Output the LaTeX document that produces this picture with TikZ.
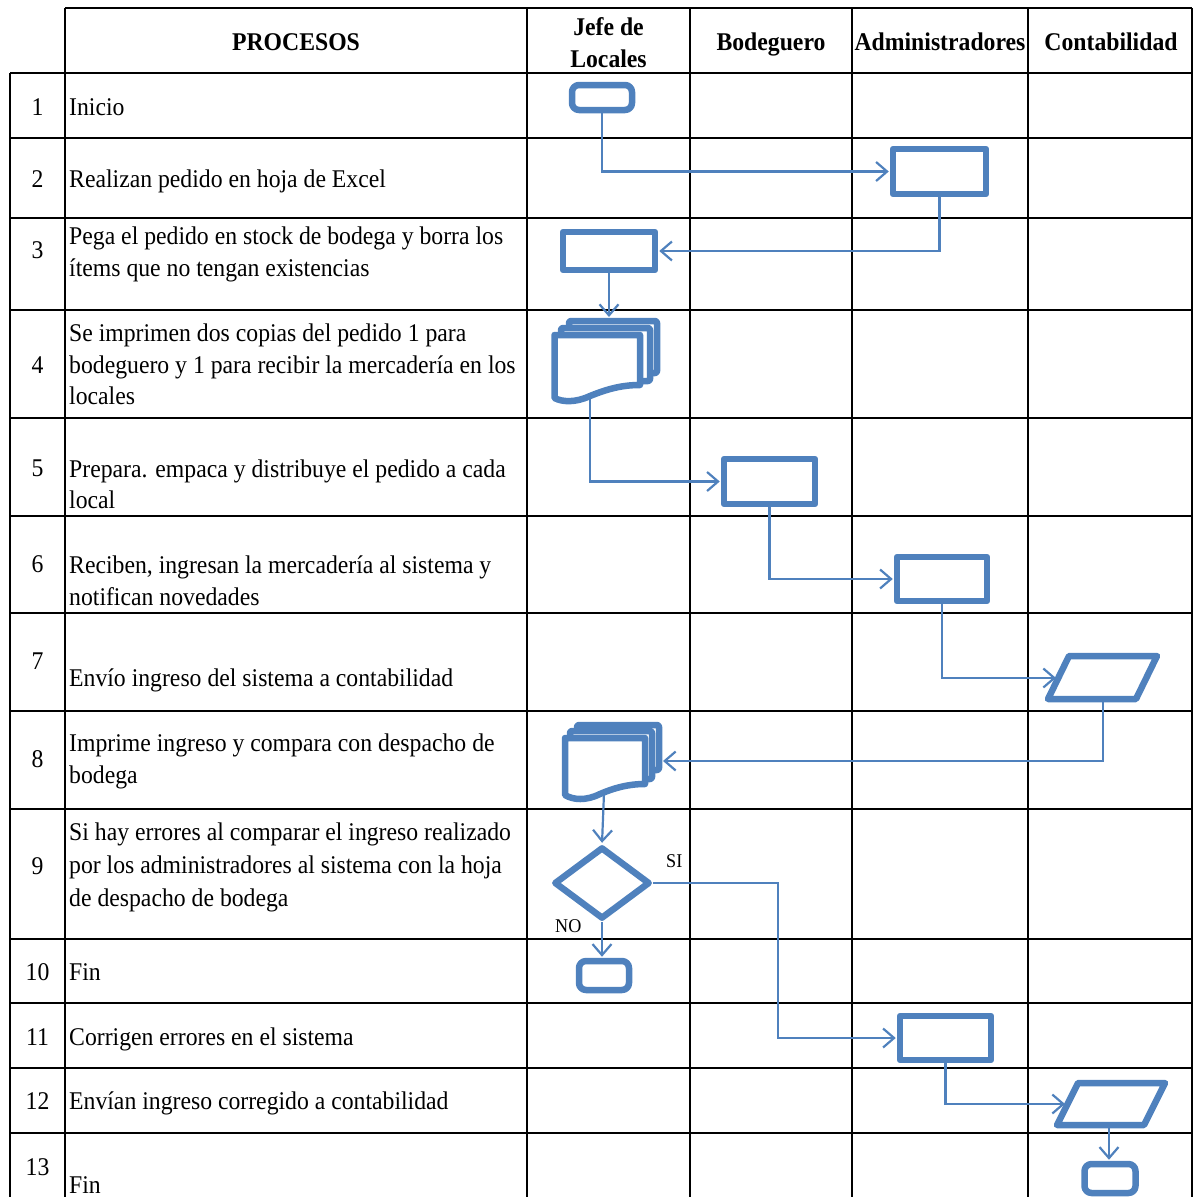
\documentclass[tikz,border=0pt]{standalone}
\usepackage{fontspec}
\setmainfont{Liberation Serif}[FakeStretch=0.93]
\usetikzlibrary{arrows.meta,shapes.geometric}
\definecolor{flowblue}{HTML}{4F81BD}

\begin{document}
\begin{tikzpicture}[x=1pt,y=-1pt,
  grid/.style={line width=2.5pt, black},
  cell/.style={font=\fontsize{25.5}{32.5}\selectfont, inner sep=0pt, anchor=base west},
  num/.style={font=\fontsize{25.5}{32.5}\selectfont, inner sep=0pt, anchor=base},
  head/.style={font=\fontsize{25.5}{32.5}\selectfont\bfseries, inner sep=0pt, anchor=base},
  branch/.style={font=\fontsize{19.5}{22}\selectfont, inner sep=0pt, anchor=base west},
  shapeline/.style={draw=flowblue, line width=6.5pt, fill=white, line join=round},
  procbox/.style={shapeline, rectangle, inner sep=0pt},
  termbox/.style={shapeline, rectangle, rounded corners=7pt, inner sep=0pt},
  decision/.style={shapeline, diamond, inner sep=0pt},
  link/.style={draw=flowblue, line width=2.2pt, shorten >=1pt,
    -{Straight Barb[length=11pt,width=19pt]}}
]
\useasboundingbox (0,0) rectangle (1194,1197);

% ---- table grid ----
\draw[grid] (65,8) -- (1192,8);
\foreach \y in {73,138,218,310,418,516,613,711,809,939,1003,1068,1133}
  \draw[grid] (10,\y) -- (1192,\y);
\draw[grid] (10,73) -- (10,1197);
\foreach \x in {65,527,690,852,1028,1192}
  \draw[grid] (\x,8) -- (\x,1197);

% ---- header ----
\node[head] (hproc) at (296,50) {PROCESOS};
\node[head] (hjefeA) at (608.5,35) {Jefe de};
\node[head] (hjefeB) at (608.5,67) {Locales};
\node[head] (hbod) at (771,50) {Bodeguero};
\node[head] (hadm) at (940,50) {Administradores};
\node[head] (hcont) at (1111,50) {Contabilidad};

% ---- step numbers ----
\node[num] (n1) at (37.5,115) {1};
\node[num] (n2) at (37.5,187) {2};
\node[num] (n3) at (37.5,258) {3};
\node[num] (n4) at (37.5,373) {4};
\node[num] (n5) at (37.5,476) {5};
\node[num] (n6) at (37.5,572) {6};
\node[num] (n7) at (37.5,669) {7};
\node[num] (n8) at (37.5,767) {8};
\node[num] (n9) at (37.5,874) {9};
\node[num] (n10) at (37.5,980) {10};
\node[num] (n11) at (37.5,1045) {11};
\node[num] (n12) at (37.5,1109) {12};
\node[num] (n13) at (37.5,1175) {13};

% ---- process descriptions ----
\node[cell] (s1) at (69,115) {Inicio};
\node[cell] (s2) at (69,187) {Realizan pedido en hoja de Excel};
\node[cell] (s3a) at (69,244) {Pega el pedido en stock de bodega y borra los};
\node[cell] (s3b) at (69,276) {ítems que no tengan existencias};
\node[cell] (s4a) at (69,341) {Se imprimen dos copias del pedido 1 para};
\node[cell] (s4b) at (69,373) {bodeguero y 1 para recibir la mercadería en los};
\node[cell] (s4c) at (69,404) {locales};
\node[cell] (s5a) at (69,477) {Prepara. empaca y distribuye el pedido a cada};
\node[cell] (s5b) at (69,508) {local};
\node[cell] (s6a) at (69,573) {Reciben, ingresan la mercadería al sistema y};
\node[cell] (s6b) at (69,605) {notifican novedades};
\node[cell] (s7) at (69,686) {Envío ingreso del sistema a contabilidad};
\node[cell] (s8a) at (69,751) {Imprime ingreso y compara con despacho de};
\node[cell] (s8b) at (69,783) {bodega};
\node[cell] (s9a) at (69,840) {Si hay errores al comparar el ingreso realizado};
\node[cell] (s9b) at (69,873) {por los administradores al sistema con la hoja};
\node[cell] (s9c) at (69,906) {de despacho de bodega};
\node[cell] (s10) at (69,980) {Fin};
\node[cell] (s11) at (69,1045) {Corrigen errores en el sistema};
\node[cell] (s12) at (69,1109) {Envían ingreso corregido a contabilidad};
\node[cell] (s13) at (69,1193) {Fin};

% ---- flowchart symbols ----
\node[termbox, minimum width=60pt, minimum height=25pt] (t1) at (602,97.5) {};
\node[procbox, minimum width=93pt, minimum height=45pt] (r2) at (939.5,171.5) {};
\node[procbox, minimum width=92pt, minimum height=38pt] (r3) at (609,251) {};

% printed copies (stacked documents), step 4
\draw[shapeline, rounded corners=2pt] (569,321) rectangle (657,373);
\draw[shapeline, rounded corners=2pt] (561,328) rectangle (650,381);
\draw[shapeline] (554.5,335) -- (640,335) -- (640,385)
  .. controls (620,385) and (605,390) .. (590,396)
  .. controls (575,403) and (562,402) .. (554.5,398) -- cycle;
\coordinate (d4top) at (609,318);
\coordinate (d4bot) at (590,397);

\node[procbox, minimum width=91pt, minimum height=45pt] (r5) at (769.5,481.5) {};
\node[procbox, minimum width=90pt, minimum height=44pt] (r6) at (942,579) {};

% data symbol, step 7
\draw[shapeline] (1048,699) -- (1069,656) -- (1157,656) -- (1136,699) -- cycle;
\coordinate (p7w) at (1057,678);
\coordinate (p7s) at (1103,699);

% printed copies, step 8
\draw[shapeline, rounded corners=2pt] (577,725) rectangle (659,770);
\draw[shapeline, rounded corners=2pt] (570,731) rectangle (652,779);
\draw[shapeline] (565,738) -- (645,738) -- (645,784)
  .. controls (628,784) and (614,788) .. (600,794)
  .. controls (586,801) and (573,800) .. (565,795) -- cycle;
\coordinate (d8e) at (662,761);
\coordinate (d8bot) at (604,793);

\node[decision, minimum width=96pt, minimum height=72pt] (dec) at (602,883) {};
\node[termbox, minimum width=50pt, minimum height=29pt] (t10) at (604,975.5) {};
\node[procbox, minimum width=91pt, minimum height=44pt] (r11) at (945.5,1038) {};

% data symbol, step 12
\draw[shapeline] (1057,1125) -- (1078,1083) -- (1165,1083) -- (1144,1125) -- cycle;
\coordinate (p12w) at (1066,1104);
\coordinate (p12s) at (1109,1125);

\node[termbox, minimum width=51pt, minimum height=29pt] (t13) at (1110,1178.5) {};

% ---- branch labels ----
\node[branch] (lsi) at (666,867) {SI};
\node[branch] (lno) at (555,932) {NO};

% ---- connectors ----
\draw[link] (t1.south) |- (r2.west);
\draw[link] (r2.south) |- (r3.east);
\draw[link] (r3.south) -- (d4top);
\draw[link] (d4bot) |- (r5.west);
\draw[link] (r5.south) |- (r6.west);
\draw[link] (r6.south) |- (p7w);
\draw[link] (p7s) |- (d8e);
\draw[link] (d8bot) -- (dec.north);
\draw[link] (dec.east) -- ++(125,0) |- (r11.west);
\draw[link] (dec.south) -- (dec.south |- t10.north);
\draw[link] (r11.south) |- (p12w);
\draw[link] (p12s) -- (p12s |- t13.north);
\end{tikzpicture}
\end{document}
